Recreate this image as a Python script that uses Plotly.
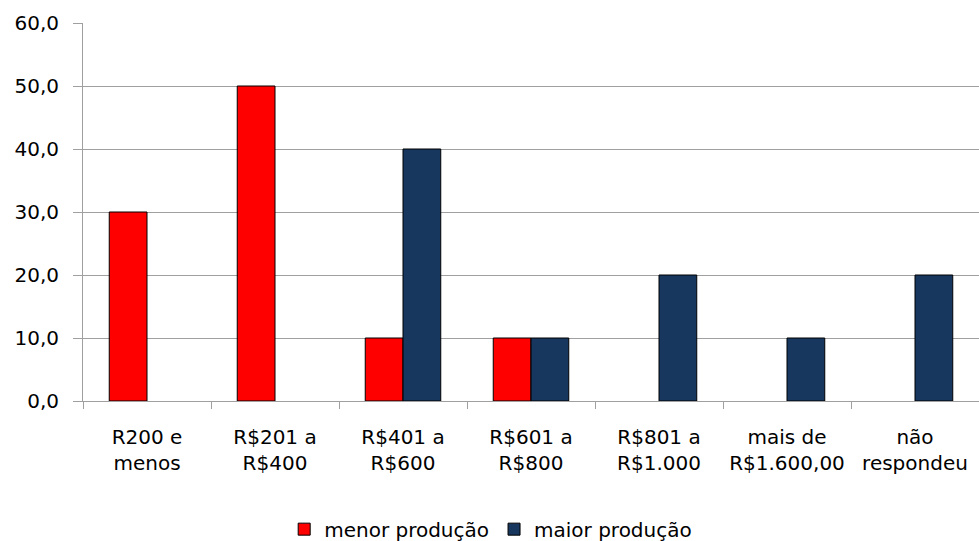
import plotly.graph_objects as go

faixas = ["R200 e<br>menos", "R$201 a<br>R$400", "R$401 a<br>R$600", "R$601 a<br>R$800",
          "R$801 a<br>R$1.000", "mais de<br>R$1.600,00", "não<br>respondeu"]
menor_producao = [30.0, 50.0, 10.0, 10.0, None, None, None]
maior_producao = [None, None, 40.0, 10.0, 20.0, 10.0, 20.0]
y_ticks = [0, 10, 20, 30, 40, 50, 60]

fig = go.Figure()
fig.add_bar(x=faixas, y=menor_producao, name="menor produção",
            marker=dict(color="#ff0000", line=dict(color="black", width=1)))
fig.add_bar(x=faixas, y=maior_producao, name="maior produção",
            marker=dict(color="#17375e", line=dict(color="black", width=1)))

fig.update_layout(
    width=979, height=541,
    margin=dict(l=83, r=0, t=23, b=140, autoexpand=False),
    barmode="group", bargap=0.41, bargroupgap=0,
    separators=",.",
    plot_bgcolor="white", paper_bgcolor="white",
    font=dict(family="DejaVu Sans, Arial, sans-serif", size=20, color="black"),
    legend=dict(orientation="h", x=0.455, xanchor="center", y=-0.339, yanchor="middle",
                font=dict(size=20), itemwidth=30, traceorder="normal"),
    showlegend=True,
)
fig.update_xaxes(
    tickson="boundaries", ticks="outside", ticklen=7, tickcolor="#a0a0a0",
    showline=True, linecolor="#a0a0a0", linewidth=1,
    showgrid=False, ticklabelstandoff=18, tickangle=0, automargin=False,
)
fig.update_yaxes(
    range=[0, 60], tickvals=y_ticks, tickformat=".1f",
    ticks="outside", ticklen=9, tickcolor="#a0a0a0",
    showline=True, linecolor="#a0a0a0", linewidth=1,
    showgrid=True, gridcolor="#a0a0a0", gridwidth=1,
    zeroline=False, ticklabelstandoff=10, automargin=False,
)

# page body has a default 8px margin; drop it so the figure sits at the window origin
fig.write_html("out.html", config={"displayModeBar": False},
               post_script="document.body.style.margin='0';")
